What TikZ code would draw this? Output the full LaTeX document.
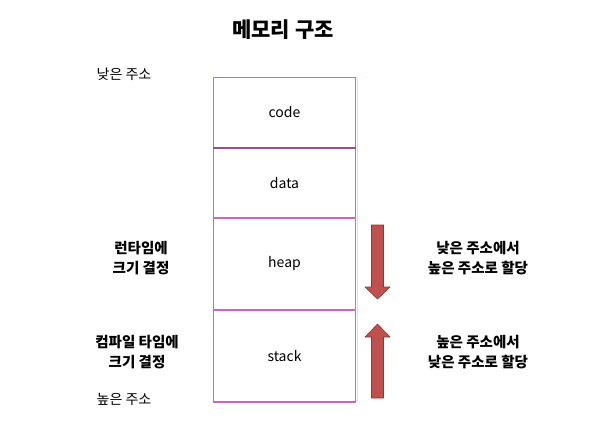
\documentclass[tikz,border=0pt]{standalone}
\usepackage{fontspec}
\setmainfont{Noto Sans CJK KR}
\usetikzlibrary{positioning,shadows}
\definecolor{segline}{RGB}{204,102,190}
\definecolor{arrowfill}{RGB}{192,80,77}
\definecolor{arrowline}{RGB}{140,56,54}

\tikzset{
    seg/.style={draw=segline,line width=1pt,fill=white,minimum width=142pt,inner sep=0pt,
        font=\fontsize{14}{16}\selectfont},
    lbl/.style={align=center,font=\bfseries\fontsize{14.5}{20}\selectfont},
    addr/.style={font=\fontsize{14}{16}\selectfont},
    bigarrow/.style={fill=arrowfill,draw=arrowline,line width=0.6pt,line join=miter}
}

\begin{document}
\begin{tikzpicture}[x=1pt,y=-1pt]
    \useasboundingbox (0,0) rectangle (593,441);
    \node[font=\bfseries\fontsize{21}{24}\selectfont] (title) at (283,30) {메모리 구조};

    % memory segments
    \draw[gray!25,line width=1.5pt] (357.5,79)--(357.5,400.5)--(215,400.5);
    \node[seg,minimum height=70pt,anchor=north west] (code) at (213,77) {code};
    \node[seg,minimum height=69pt,below=0pt of code] (data) {data};
    \node[seg,minimum height=91pt,below=0pt of data] (heap) {heap};
    \node[seg,minimum height=91pt,below=0pt of heap] (stack) {stack};
    \draw[segline!75!black,line width=1.6pt] (code.south west)--(code.south east);
    \draw[segline,line width=1.4pt] (stack.south west)--(stack.south east);

    \node[addr] (low) at (124,74) {낮은 주소};
    \node[addr] (high) at (124,399) {높은 주소};

    \node[lbl] (runtime) at (141,258) {런타임에\\크기 결정};
    \node[lbl] (compile) at (137,352) {컴파일 타임에\\크기 결정};

    % growth arrows
    \coordinate (down) at (377.5,225);
    \coordinate (up) at (377.5,398);
    \draw[bigarrow] (down) ++(-6,0) -- ++(12,0) -- ++(0,62) -- ++(6.5,0) -- (377.5,299) -- (365,287) -- ++(6.5,0) -- cycle;
    \draw[bigarrow] (up) ++(-6,0) -- ++(12,0) -- ++(0,-61) -- ++(6.5,0) -- (377.5,324) -- (365,337) -- ++(6.5,0) -- cycle;

    \node[lbl] (heapnote) at (478,258) {낮은 주소에서\\높은 주소로 할당};
    \node[lbl] (stacknote) at (478,352) {높은 주소에서\\낮은 주소로 할당};
\end{tikzpicture}
\end{document}
